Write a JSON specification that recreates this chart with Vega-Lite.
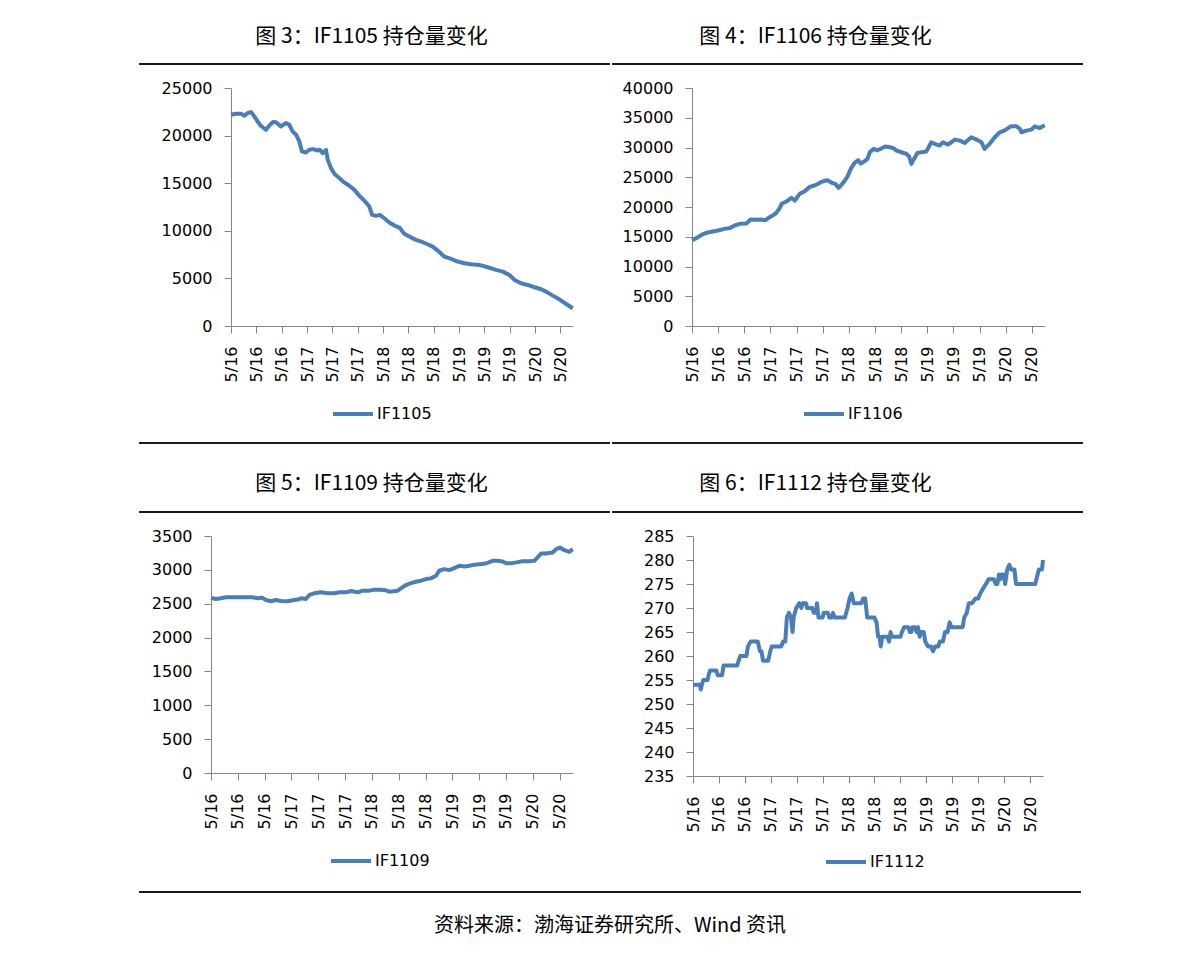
{
  "$schema": "https://vega.github.io/schema/vega-lite/v6.json",
  "padding": {"left": 138, "top": 0, "right": 111, "bottom": 0},
  "background": "#ffffff",
  "datasets": {
    "a": [
      {"i":0,"v":22190},{"i":20,"v":22300},{"i":39,"v":22300},{"i":53,"v":22090},{"i":66,"v":22370},{"i":79,"v":22470},{"i":92,"v":22020},{"i":105,"v":21490},{"i":118,"v":21040},{"i":138,"v":20610},{"i":151,"v":21040},{"i":165,"v":21420},{"i":178,"v":21390},{"i":197,"v":20970},{"i":217,"v":21320},{"i":230,"v":21140},{"i":243,"v":20440},{"i":257,"v":20090},{"i":270,"v":19390},{"i":280,"v":18340},{"i":296,"v":18230},{"i":309,"v":18510},{"i":325,"v":18580},{"i":338,"v":18440},{"i":351,"v":18510},{"i":362,"v":18160},{"i":375,"v":18510},{"i":382,"v":17460},{"i":395,"v":16580},{"i":408,"v":15990},{"i":428,"v":15530},{"i":447,"v":15080},{"i":467,"v":14730},{"i":487,"v":14300},{"i":507,"v":13670},{"i":526,"v":13180},{"i":546,"v":12550},{"i":557,"v":11670},{"i":572,"v":11570},{"i":588,"v":11670},{"i":605,"v":11320},{"i":625,"v":10870},{"i":645,"v":10550},{"i":665,"v":10340},{"i":684,"v":9680},{"i":704,"v":9400},{"i":730,"v":9050},{"i":757,"v":8800},{"i":776,"v":8590},{"i":796,"v":8340},{"i":816,"v":7920},{"i":842,"v":7290},{"i":869,"v":7050},{"i":895,"v":6770},{"i":921,"v":6590},{"i":948,"v":6490},{"i":980,"v":6420},{"i":1013,"v":6170},{"i":1046,"v":5890},{"i":1073,"v":5710},{"i":1099,"v":5360},{"i":1119,"v":4840},{"i":1145,"v":4490},{"i":1171,"v":4310},{"i":1198,"v":4070},{"i":1224,"v":3860},{"i":1244,"v":3610},{"i":1270,"v":3190},{"i":1296,"v":2800},{"i":1323,"v":2310},{"i":1349,"v":1860}
    ],
    "b": [
      {"i":0,"v":14430},{"i":17,"v":14770},{"i":36,"v":15330},{"i":55,"v":15660},{"i":74,"v":15830},{"i":99,"v":16050},{"i":125,"v":16330},{"i":144,"v":16450},{"i":163,"v":16890},{"i":182,"v":17170},{"i":208,"v":17230},{"i":224,"v":17900},{"i":246,"v":17850},{"i":265,"v":17900},{"i":281,"v":17790},{"i":297,"v":18290},{"i":319,"v":18850},{"i":332,"v":19580},{"i":344,"v":20590},{"i":361,"v":20920},{"i":380,"v":21540},{"i":393,"v":21090},{"i":412,"v":22210},{"i":431,"v":22660},{"i":450,"v":23380},{"i":469,"v":23610},{"i":488,"v":24050},{"i":501,"v":24330},{"i":518,"v":24500},{"i":536,"v":24050},{"i":548,"v":23890},{"i":561,"v":23220},{"i":578,"v":24050},{"i":594,"v":25060},{"i":607,"v":26400},{"i":622,"v":27410},{"i":635,"v":27860},{"i":645,"v":27300},{"i":660,"v":27690},{"i":671,"v":28080},{"i":680,"v":29200},{"i":694,"v":29760},{"i":709,"v":29540},{"i":724,"v":29820},{"i":737,"v":30150},{"i":756,"v":30040},{"i":769,"v":29930},{"i":782,"v":29480},{"i":801,"v":29200},{"i":820,"v":28920},{"i":830,"v":28530},{"i":839,"v":27240},{"i":849,"v":28080},{"i":862,"v":29090},{"i":877,"v":29200},{"i":896,"v":29310},{"i":915,"v":30880},{"i":935,"v":30490},{"i":947,"v":30320},{"i":960,"v":30880},{"i":979,"v":30490},{"i":1005,"v":31330},{"i":1024,"v":31160},{"i":1043,"v":30770},{"i":1068,"v":31720},{"i":1088,"v":31330},{"i":1107,"v":30880},{"i":1119,"v":29760},{"i":1139,"v":30660},{"i":1158,"v":31720},{"i":1177,"v":32560},{"i":1196,"v":32890},{"i":1219,"v":33560},{"i":1241,"v":33560},{"i":1253,"v":33170},{"i":1260,"v":32560},{"i":1279,"v":32840},{"i":1298,"v":33000},{"i":1311,"v":33560},{"i":1330,"v":33280},{"i":1349,"v":33730}
    ],
    "c": [
      {"i":0,"v":2585},{"i":19,"v":2570},{"i":37,"v":2580},{"i":56,"v":2595},{"i":81,"v":2595},{"i":106,"v":2595},{"i":131,"v":2595},{"i":155,"v":2595},{"i":174,"v":2580},{"i":190,"v":2590},{"i":205,"v":2555},{"i":224,"v":2536},{"i":242,"v":2555},{"i":261,"v":2541},{"i":286,"v":2536},{"i":305,"v":2551},{"i":323,"v":2561},{"i":336,"v":2580},{"i":354,"v":2570},{"i":367,"v":2629},{"i":385,"v":2654},{"i":410,"v":2668},{"i":435,"v":2654},{"i":460,"v":2654},{"i":479,"v":2668},{"i":503,"v":2668},{"i":522,"v":2688},{"i":547,"v":2668},{"i":566,"v":2693},{"i":590,"v":2693},{"i":609,"v":2707},{"i":628,"v":2707},{"i":646,"v":2703},{"i":665,"v":2678},{"i":696,"v":2693},{"i":708,"v":2727},{"i":727,"v":2776},{"i":746,"v":2805},{"i":764,"v":2825},{"i":783,"v":2840},{"i":802,"v":2864},{"i":820,"v":2874},{"i":839,"v":2913},{"i":851,"v":2987},{"i":870,"v":3011},{"i":889,"v":2996},{"i":907,"v":3026},{"i":926,"v":3060},{"i":945,"v":3050},{"i":963,"v":3060},{"i":982,"v":3075},{"i":1001,"v":3084},{"i":1025,"v":3094},{"i":1050,"v":3133},{"i":1069,"v":3133},{"i":1088,"v":3124},{"i":1100,"v":3099},{"i":1125,"v":3099},{"i":1144,"v":3114},{"i":1162,"v":3128},{"i":1187,"v":3128},{"i":1206,"v":3133},{"i":1214,"v":3168},{"i":1231,"v":3241},{"i":1249,"v":3241},{"i":1274,"v":3256},{"i":1287,"v":3305},{"i":1301,"v":3329},{"i":1318,"v":3290},{"i":1336,"v":3266},{"i":1349,"v":3305}
    ],
    "d": [
      {"i":0,"v":254},{"i":27,"v":254},{"i":30,"v":253},{"i":34,"v":254},{"i":40,"v":255},{"i":56,"v":255},{"i":60,"v":256},{"i":66,"v":257},{"i":90,"v":257},{"i":95,"v":256},{"i":112,"v":256},{"i":118,"v":258},{"i":170,"v":258},{"i":176,"v":259},{"i":182,"v":260},{"i":206,"v":260},{"i":212,"v":262},{"i":222,"v":263},{"i":250,"v":263},{"i":258,"v":261},{"i":264,"v":261},{"i":270,"v":259},{"i":290,"v":259},{"i":298,"v":261},{"i":304,"v":262},{"i":340,"v":262},{"i":348,"v":263},{"i":356,"v":263},{"i":362,"v":268},{"i":370,"v":269},{"i":378,"v":268},{"i":384,"v":265},{"i":388,"v":268},{"i":398,"v":270},{"i":410,"v":271},{"i":418,"v":270},{"i":424,"v":271},{"i":436,"v":271},{"i":440,"v":270},{"i":460,"v":270},{"i":466,"v":269},{"i":474,"v":269},{"i":478,"v":271},{"i":484,"v":268},{"i":500,"v":268},{"i":504,"v":269},{"i":520,"v":269},{"i":526,"v":268},{"i":534,"v":268},{"i":540,"v":269},{"i":546,"v":268},{"i":586,"v":268},{"i":596,"v":270},{"i":604,"v":272},{"i":612,"v":273},{"i":620,"v":271},{"i":650,"v":271},{"i":656,"v":272},{"i":664,"v":272},{"i":672,"v":268},{"i":700,"v":268},{"i":708,"v":267},{"i":714,"v":264},{"i":720,"v":264},{"i":724,"v":262},{"i":730,"v":264},{"i":750,"v":264},{"i":756,"v":263},{"i":762,"v":265},{"i":768,"v":264},{"i":800,"v":264},{"i":806,"v":265},{"i":814,"v":266},{"i":832,"v":266},{"i":836,"v":265},{"i":842,"v":265},{"i":846,"v":266},{"i":856,"v":266},{"i":862,"v":265},{"i":868,"v":266},{"i":874,"v":264},{"i":880,"v":265},{"i":890,"v":265},{"i":896,"v":263},{"i":906,"v":262},{"i":918,"v":262},{"i":926,"v":261},{"i":934,"v":262},{"i":946,"v":262},{"i":952,"v":263},{"i":964,"v":263},{"i":972,"v":265},{"i":982,"v":265},{"i":990,"v":267},{"i":996,"v":266},{"i":1040,"v":266},{"i":1046,"v":268},{"i":1056,"v":269},{"i":1064,"v":271},{"i":1076,"v":271},{"i":1090,"v":272},{"i":1100,"v":272},{"i":1108,"v":273},{"i":1118,"v":274},{"i":1130,"v":275},{"i":1140,"v":276},{"i":1160,"v":276},{"i":1168,"v":275},{"i":1174,"v":275},{"i":1180,"v":277},{"i":1186,"v":276},{"i":1192,"v":277},{"i":1200,"v":277},{"i":1204,"v":275},{"i":1212,"v":278},{"i":1220,"v":279},{"i":1228,"v":278},{"i":1240,"v":278},{"i":1246,"v":275},{"i":1320,"v":275},{"i":1334,"v":278},{"i":1346,"v":278},{"i":1350,"v":280}
    ]
  },
  "resolve": {"scale": {"x": "independent", "y": "independent", "color": "independent"}, "legend": {"color": "independent"}},
  "spacing": 0,
  "vconcat": [
    {
      "spacing": 0,
      "resolve": {"scale": {"x": "independent", "y": "independent", "color": "independent"}, "legend": {"color": "independent"}},
      "hconcat": [
        {
          "width": 471, "height": 80,
          "data": {"values": [{"t": "图 3：IF1105 持仓量变化"}]},
          "layer": [
            {"mark": {"type": "rule", "color": "#1a1a1a", "strokeWidth": 2}, "encoding": {"y": {"datum": 0.2, "type": "quantitative", "scale": {"domain": [0, 1]}, "axis": null}}},
            {"mark": {"type": "text", "font": "Noto Sans CJK SC", "fontSize": 21, "dx": -3, "color": "#000000"}, "encoding": {"text": {"field": "t"}, "y": {"datum": 0.5375, "type": "quantitative", "scale": {"domain": [0, 1]}, "axis": null}}}
          ]
        },
        {
          "width": 471, "height": 80,
          "data": {"values": [{"t": "图 4：IF1106 持仓量变化"}]},
          "layer": [
            {"mark": {"type": "rule", "color": "#1a1a1a", "strokeWidth": 2}, "encoding": {"y": {"datum": 0.2, "type": "quantitative", "scale": {"domain": [0, 1]}, "axis": null}}},
            {"mark": {"type": "text", "font": "Noto Sans CJK SC", "fontSize": 21, "dx": -32, "color": "#000000"}, "encoding": {"text": {"field": "t"}, "y": {"datum": 0.5375, "type": "quantitative", "scale": {"domain": [0, 1]}, "axis": null}}}
          ]
        }
      ]
    },
    {
      "spacing": 0,
      "resolve": {"scale": {"x": "independent", "y": "independent", "color": "independent"}, "legend": {"color": "independent"}},
      "hconcat": [
        {"width": 1, "height": 1, "data": {"values": [{}]}, "mark": {"type": "rect", "opacity": 0}, "encoding": {}},
        {
          "spacing": 37,
          "resolve": {"scale": {"x": "independent", "y": "independent", "color": "independent"}, "legend": {"color": "independent"}},
          "hconcat": [
            {
              "width": 342, "height": 238,
              "data": {"name": "a"},
              "mark": {"type": "line", "strokeWidth": 4, "strokeJoin": "round"},
              "encoding": {
                "x": {"field": "i", "type": "quantitative", "scale": {"domain": [0, 1350], "nice": false, "zero": false}, "axis": {"title": null, "values": [0,100,200,300,400,500,600,700,800,900,1000,1100,1200,1300], "labelExpr": "datum.value < 300 ? '5/16' : datum.value < 600 ? '5/17' : datum.value < 900 ? '5/18' : datum.value < 1200 ? '5/19' : '5/20'"}},
                "y": {"field": "v", "type": "quantitative", "scale": {"domain": [0, 25000], "nice": false}, "axis": {"title": null, "values": [0,5000,10000,15000,20000,25000], "format": "d", "minExtent": 91, "maxExtent": 91}},
                "color": {"datum": "IF1105", "scale": {"range": ["#4a7ebb"]}, "legend": {"title": null, "orient": "none", "legendX": 100, "legendY": 304}}
              }
            },
            {
              "width": 353, "height": 238,
              "data": {"name": "b"},
              "mark": {"type": "line", "strokeWidth": 4, "strokeJoin": "round"},
              "encoding": {
                "x": {"field": "i", "type": "quantitative", "scale": {"domain": [0, 1350], "nice": false, "zero": false}, "axis": {"title": null, "values": [0,100,200,300,400,500,600,700,800,900,1000,1100,1200,1300], "labelExpr": "datum.value < 300 ? '5/16' : datum.value < 600 ? '5/17' : datum.value < 900 ? '5/18' : datum.value < 1200 ? '5/19' : '5/20'"}},
                "y": {"field": "v", "type": "quantitative", "scale": {"domain": [0, 40000], "nice": false}, "axis": {"title": null, "values": [0,5000,10000,15000,20000,25000,30000,35000,40000], "format": "d", "minExtent": 80, "maxExtent": 80}},
                "color": {"datum": "IF1106", "scale": {"range": ["#4a7ebb"]}, "legend": {"title": null, "orient": "none", "legendX": 110, "legendY": 304}}
              }
            }
          ]
        }
      ]
    },
    {
      "spacing": 0,
      "resolve": {"scale": {"x": "independent", "y": "independent", "color": "independent"}, "legend": {"color": "independent"}},
      "hconcat": [
        {
          "width": 471, "height": 106,
          "data": {"values": [{"t": "图 5：IF1109 持仓量变化"}]},
          "layer": [
            {"mark": {"type": "rule", "color": "#1a1a1a", "strokeWidth": 2}, "encoding": {"y": {"datum": 0.8019, "type": "quantitative", "scale": {"domain": [0, 1]}, "axis": null}}},
            {"mark": {"type": "rule", "color": "#1a1a1a", "strokeWidth": 2}, "encoding": {"y": {"datum": 0.151, "type": "quantitative", "scale": {"domain": [0, 1]}, "axis": null}}},
            {"mark": {"type": "text", "font": "Noto Sans CJK SC", "fontSize": 21, "dx": -3, "color": "#000000"}, "encoding": {"text": {"field": "t"}, "y": {"datum": 0.415, "type": "quantitative", "scale": {"domain": [0, 1]}, "axis": null}}}
          ]
        },
        {
          "width": 471, "height": 106,
          "data": {"values": [{"t": "图 6：IF1112 持仓量变化"}]},
          "layer": [
            {"mark": {"type": "rule", "color": "#1a1a1a", "strokeWidth": 2}, "encoding": {"y": {"datum": 0.8019, "type": "quantitative", "scale": {"domain": [0, 1]}, "axis": null}}},
            {"mark": {"type": "rule", "color": "#1a1a1a", "strokeWidth": 2}, "encoding": {"y": {"datum": 0.151, "type": "quantitative", "scale": {"domain": [0, 1]}, "axis": null}}},
            {"mark": {"type": "text", "font": "Noto Sans CJK SC", "fontSize": 21, "dx": -32, "color": "#000000"}, "encoding": {"text": {"field": "t"}, "y": {"datum": 0.415, "type": "quantitative", "scale": {"domain": [0, 1]}, "axis": null}}}
          ]
        }
      ]
    },
    {
      "spacing": 0,
      "resolve": {"scale": {"x": "independent", "y": "independent", "color": "independent"}, "legend": {"color": "independent"}},
      "hconcat": [
        {"width": 1, "height": 1, "data": {"values": [{}]}, "mark": {"type": "rect", "opacity": 0}, "encoding": {}},
        {
          "spacing": 37,
          "resolve": {"scale": {"x": "independent", "y": "independent", "color": "independent"}, "legend": {"color": "independent"}},
          "hconcat": [
            {
              "width": 362, "height": 237,
              "data": {"name": "c"},
              "mark": {"type": "line", "strokeWidth": 4, "strokeJoin": "round"},
              "encoding": {
                "x": {"field": "i", "type": "quantitative", "scale": {"domain": [0, 1350], "nice": false, "zero": false}, "axis": {"title": null, "values": [0,100,200,300,400,500,600,700,800,900,1000,1100,1200,1300], "labelExpr": "datum.value < 300 ? '5/16' : datum.value < 600 ? '5/17' : datum.value < 900 ? '5/18' : datum.value < 1200 ? '5/19' : '5/20'"}},
                "y": {"field": "v", "type": "quantitative", "scale": {"domain": [0, 3500], "nice": false}, "axis": {"title": null, "values": [0,500,1000,1500,2000,2500,3000,3500], "format": "d", "minExtent": 71, "maxExtent": 71}},
                "color": {"datum": "IF1109", "scale": {"range": ["#4a7ebb"]}, "legend": {"title": null, "orient": "none", "legendX": 118, "legendY": 303}}
              }
            },
            {
              "width": 350, "height": 240,
              "data": {"name": "d"},
              "mark": {"type": "line", "strokeWidth": 4, "strokeJoin": "round"},
              "encoding": {
                "x": {"field": "i", "type": "quantitative", "scale": {"domain": [0, 1350], "nice": false, "zero": false}, "axis": {"title": null, "values": [0,100,200,300,400,500,600,700,800,900,1000,1100,1200,1300], "labelExpr": "datum.value < 300 ? '5/16' : datum.value < 600 ? '5/17' : datum.value < 900 ? '5/18' : datum.value < 1200 ? '5/19' : '5/20'"}},
                "y": {"field": "v", "type": "quantitative", "scale": {"domain": [235, 285], "nice": false, "zero": false}, "axis": {"title": null, "values": [235,240,245,250,255,260,265,270,275,280,285], "format": "d", "minExtent": 81, "maxExtent": 81}},
                "color": {"datum": "IF1112", "scale": {"range": ["#4a7ebb"]}, "legend": {"title": null, "orient": "none", "legendX": 131, "legendY": 304}}
              }
            }
          ]
        }
      ]
    },
    {
      "width": 942, "height": 88,
      "data": {"values": [{"t": "资料来源：渤海证券研究所、Wind 资讯"}]},
      "layer": [
        {"mark": {"type": "rule", "color": "#1a1a1a", "strokeWidth": 2}, "encoding": {"y": {"datum": 0.75, "type": "quantitative", "scale": {"domain": [0, 1]}, "axis": null}}},
        {"mark": {"type": "text", "font": "Noto Sans CJK SC", "fontSize": 20, "color": "#000000"}, "encoding": {"text": {"field": "t"}, "y": {"datum": 0.3636, "type": "quantitative", "scale": {"domain": [0, 1]}, "axis": null}}}
      ]
    }
  ],
  "config": {
    "view": {"stroke": null},
    "font": "DejaVu Sans",
    "axis": {"domainColor": "#868686", "tickColor": "#868686", "tickSize": 7, "domainWidth": 1, "tickWidth": 1, "labelColor": "#000000", "labelFont": "DejaVu Sans", "labelFontSize": 16, "grid": false, "labelOverlap": false, "labelFlush": false},
    "axisX": {"labelAngle": 270, "labelPadding": 13},
    "axisY": {"labelPadding": 12},
    "legend": {"labelFont": "DejaVu Sans", "labelFontSize": 16, "labelColor": "#000000", "symbolType": "stroke", "symbolStrokeWidth": 4, "symbolSize": 1600, "labelOffset": 2, "padding": 0}
  }
}
